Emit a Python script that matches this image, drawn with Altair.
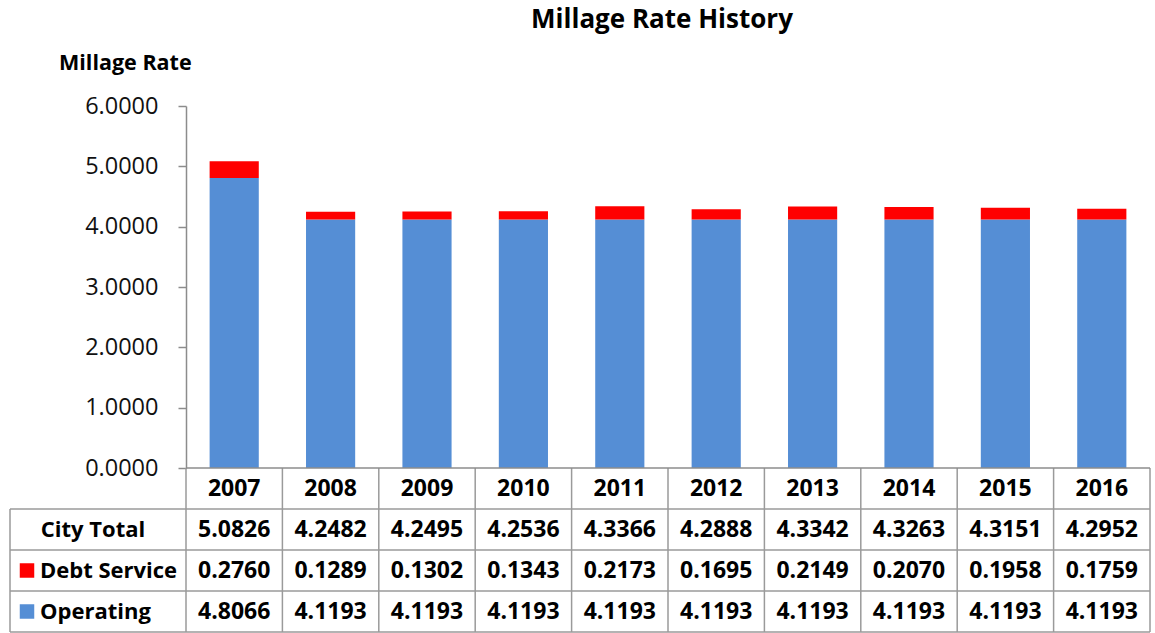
import altair as alt
import pandas as pd

# Millage rate components by fiscal year
years = ["2007", "2008", "2009", "2010", "2011", "2012", "2013", "2014", "2015", "2016"]
operating = [4.8066, 4.1193, 4.1193, 4.1193, 4.1193, 4.1193, 4.1193, 4.1193, 4.1193, 4.1193]
debt_service = [0.2760, 0.1289, 0.1302, 0.1343, 0.2173, 0.1695, 0.2149, 0.2070, 0.1958, 0.1759]
city_total = [5.0826, 4.2482, 4.2495, 4.2536, 4.3366, 4.2888, 4.3342, 4.3263, 4.3151, 4.2952]
y_ticks = [0, 1, 2, 3, 4, 5, 6]

BLUE = "#558ED5"
RED = "#FF0000"
GRID = "#9a9a9a"
FONT = "Open Sans"

W, H = 964, 362          # plot area
ROW_H = 41               # table row height
ROW_Y = [H + ROW_H * (i + 0.5) for i in range(4)]   # header, total, debt, operating
LINE_Y = [H + ROW_H * (i + 1) for i in range(4)]
LEFT = -176              # left edge of the label column

df = pd.DataFrame({
    "year": years,
    "operating": operating,
    "debt": debt_service,
    "total": city_total,
})
df["operating_txt"] = df["operating"].map(lambda v: f"{v:.4f}")
df["debt_txt"] = df["debt"].map(lambda v: f"{v:.4f}")
df["total_txt"] = df["total"].map(lambda v: f"{v:.4f}")

one = pd.DataFrame({"k": [0]})

xscale = alt.Scale(domain=years, paddingInner=0, paddingOuter=0)
x_enc = alt.X("year:N", scale=xscale, axis=None)
yscale = alt.Scale(domain=[0, 6], nice=False)

base = alt.Chart(df)

bars_op = base.mark_bar(color=BLUE, width=alt.RelativeBandSize(0.51)).encode(
    x=x_enc,
    y=alt.Y("operating:Q", scale=yscale, title=None,
            axis=alt.Axis(values=y_ticks, format=".4f", grid=False,
                          labelFont=FONT, labelFontSize=23.5, labelColor="#111",
                          labelPadding=20, tickSize=8, tickColor="#8c8c8c",
                          tickWidth=1.5, domainColor="#8c8c8c", domainWidth=1.5)),
    y2=alt.datum(0),
)
bars_debt = base.mark_bar(color=RED, width=alt.RelativeBandSize(0.51)).encode(
    x=x_enc,
    y=alt.Y("total:Q", scale=yscale),
    y2="operating:Q",
)

# table grid: vertical lines at column boundaries
vlines = base.mark_rule(color=GRID, strokeWidth=1.5).encode(
    x=alt.X("year:N", scale=xscale, axis=None, bandPosition=0),
    y=alt.value(H), y2=alt.value(LINE_Y[-1]),
)
right_edge = alt.Chart(one).mark_rule(color=GRID, strokeWidth=1.5).encode(
    x=alt.value(W), y=alt.value(H), y2=alt.value(LINE_Y[-1]))
left_edge = alt.Chart(one).mark_rule(color=GRID, strokeWidth=1.5).encode(
    x=alt.value(LEFT), y=alt.value(LINE_Y[0]), y2=alt.value(LINE_Y[-1]))
axis_line = alt.Chart(one).mark_rule(color="#8c8c8c", strokeWidth=1.5).encode(
    x=alt.value(0), x2=alt.value(W), y=alt.value(H))
hlines = [
    alt.Chart(one).mark_rule(color=GRID, strokeWidth=1.5).encode(
        x=alt.value(LEFT), x2=alt.value(W), y=alt.value(yv))
    for yv in LINE_Y
]

txt = dict(font=FONT, fontSize=23, fontWeight="bold", color="#000", baseline="middle")
header = base.mark_text(**txt).encode(x=x_enc, y=alt.value(ROW_Y[0]), text="year:N")
row_total = base.mark_text(**txt).encode(x=x_enc, y=alt.value(ROW_Y[1]), text="total_txt:N")
row_debt = base.mark_text(**txt).encode(x=x_enc, y=alt.value(ROW_Y[2]), text="debt_txt:N")
row_op = base.mark_text(**txt).encode(x=x_enc, y=alt.value(ROW_Y[3]), text="operating_txt:N")

lab = dict(txt, fontSize=22)
row_labels = ["City Total", "Debt Service", "Operating"]
lab_total = alt.Chart(one).mark_text(**lab, align="center", text=row_labels[0]).encode(
    x=alt.value(-93), y=alt.value(ROW_Y[1]))
lab_debt = alt.Chart(one).mark_text(**lab, align="left", text=row_labels[1]).encode(
    x=alt.value(-146), y=alt.value(ROW_Y[2]))
lab_op = alt.Chart(one).mark_text(**lab, align="left", text=row_labels[2]).encode(
    x=alt.value(-146), y=alt.value(ROW_Y[3]))
key_debt = alt.Chart(one).mark_square(color=RED, size=210, opacity=1).encode(
    x=alt.value(-159), y=alt.value(ROW_Y[2]))
key_op = alt.Chart(one).mark_square(color=BLUE, size=210, opacity=1).encode(
    x=alt.value(-159), y=alt.value(ROW_Y[3]))

y_title = alt.Chart(one).mark_text(font=FONT, fontSize=21.5, fontWeight="bold", color="#000",
                                   align="left", baseline="middle", text="Millage Rate").encode(
    x=alt.value(-127), y=alt.value(-42))

chart_title = alt.Chart(one).mark_text(font=FONT, fontSize=26, fontWeight="bold", color="#000",
                                       align="center", baseline="middle",
                                       text="Millage Rate History").encode(
    x=alt.value(476), y=alt.value(-86))

chart = alt.layer(
    bars_op, bars_debt, vlines, right_edge, left_edge, *hlines, axis_line,
    header, row_total, row_debt, row_op, lab_total, lab_debt, lab_op,
    key_debt, key_op, y_title, chart_title,
).properties(
    width=W, height=H,
    autosize=alt.AutoSizeParams(type="none"),
    padding={"left": 186, "top": 106, "right": 5, "bottom": 165},
).configure_view(stroke=None)

chart.save("out.html", embed_options={"renderer": "svg", "actions": False})
